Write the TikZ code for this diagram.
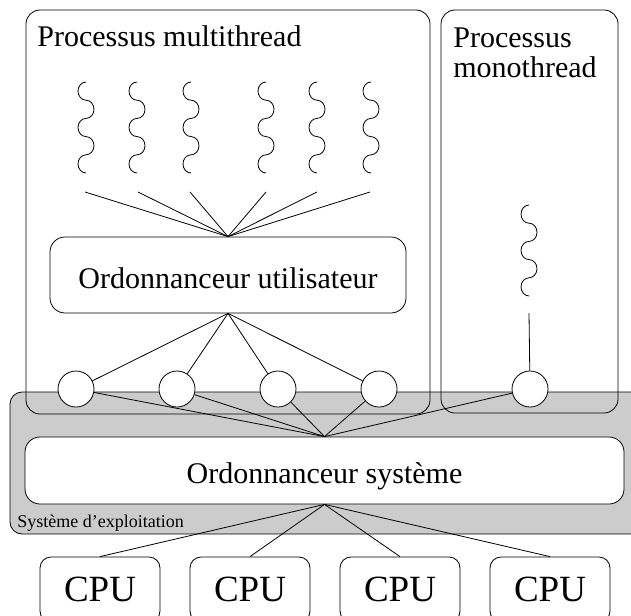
\documentclass[tikz,border=0pt]{standalone}
\usepackage{fontspec}
\setmainfont{Liberation Serif}
\begin{document}
\begin{tikzpicture}[x=1pt,y=-1pt,line width=0.8pt,
  every node/.style={inner sep=0pt},
  procbox/.style={rounded corners=14pt},
  osarea/.style={draw,fill=black!20,rounded corners=12pt},
  schedbox/.style={draw,fill=white,rounded corners=15pt,text height=26pt,text depth=0pt,font=\fontsize{30}{30}\selectfont},
  cpubox/.style={draw,fill=white,rounded corners=11pt,minimum width=120pt,minimum height=65pt,font=\fontsize{37}{37}\selectfont},
  lwp/.style={draw,fill=white,circle,minimum size=36pt},
  bigtext/.style={font=\fontsize{30}{30}\selectfont},
  smalltext/.style={font=\fontsize{18}{18}\selectfont},
  thread/.pic={\draw (0,0)
     arc[start angle=90,end angle=270,x radius=8pt,y radius=9.1pt]
     arc[start angle=90,end angle=-90,x radius=8pt,y radius=9.1pt]
     arc[start angle=90,end angle=270,x radius=8pt,y radius=9.1pt]
     arc[start angle=90,end angle=-90,x radius=8pt,y radius=9.1pt]
     arc[start angle=90,end angle=270,x radius=8pt,y radius=9.1pt];}
]
\clip (0,0) rectangle (631,615);
% operating system area
\draw[osarea] (10,392) rectangle (680,534);
% process boxes
\draw[procbox] (26,10) rectangle (430,414);
\draw[procbox] (441,10) rectangle (618,413);
\node[bigtext,anchor=base west] (mt) at (37,47) {Processus multithread};
\node[bigtext,anchor=north west,align=left] (mono) at (453,27) {Processus\\monothread};
% threads
\pic at (86,82) {thread};
\pic at (137,82) {thread};
\pic at (191,82) {thread};
\pic at (266,82) {thread};
\pic at (317,82) {thread};
\pic at (371,82) {thread};
\pic at (529,205) {thread};
% thread link ends
\coordinate (t1) at (85,192);
\coordinate (t2) at (138,192);
\coordinate (t3) at (190,192);
\coordinate (t4) at (266,192);
\coordinate (t5) at (317,192);
\coordinate (t6) at (370,192);
\coordinate (m) at (529,313);
% schedulers
\node[schedbox,minimum width=356pt,minimum height=76pt] (ou) at (228,275) {Ordonnanceur utilisateur};
\node[schedbox,minimum width=599pt,minimum height=67pt] (os) at (324.5,470.5) {Ordonnanceur système};
\node[smalltext,anchor=base west] (se) at (17,527) {Système d'exploitation};
% kernel threads
\node[lwp] (c1) at (76,389) {};
\node[lwp] (c2) at (177,389) {};
\node[lwp] (c3) at (278,389) {};
\node[lwp] (c4) at (379,389) {};
\node[lwp] (c5) at (530,389) {};
% CPUs
\node[cpubox] (cpu1) at (100,589.5) {CPU};
\node[cpubox] (cpu2) at (250,589.5) {CPU};
\node[cpubox] (cpu3) at (400,589.5) {CPU};
\node[cpubox] (cpu4) at (550,589.5) {CPU};
% connectors
\foreach \t in {t1,t2,t3,t4,t5,t6} \draw (\t) -- (ou.north);
\foreach \c in {c1,c2,c3,c4} \draw (ou.south) -- (\c);
\draw (m) -- (c5);
\foreach \c in {c1,c2,c3,c4,c5} \draw (\c) -- (os.north);
\foreach \c in {cpu1,cpu2,cpu3,cpu4} \draw (os.south) -- (\c.north);
\end{tikzpicture}
\end{document}
